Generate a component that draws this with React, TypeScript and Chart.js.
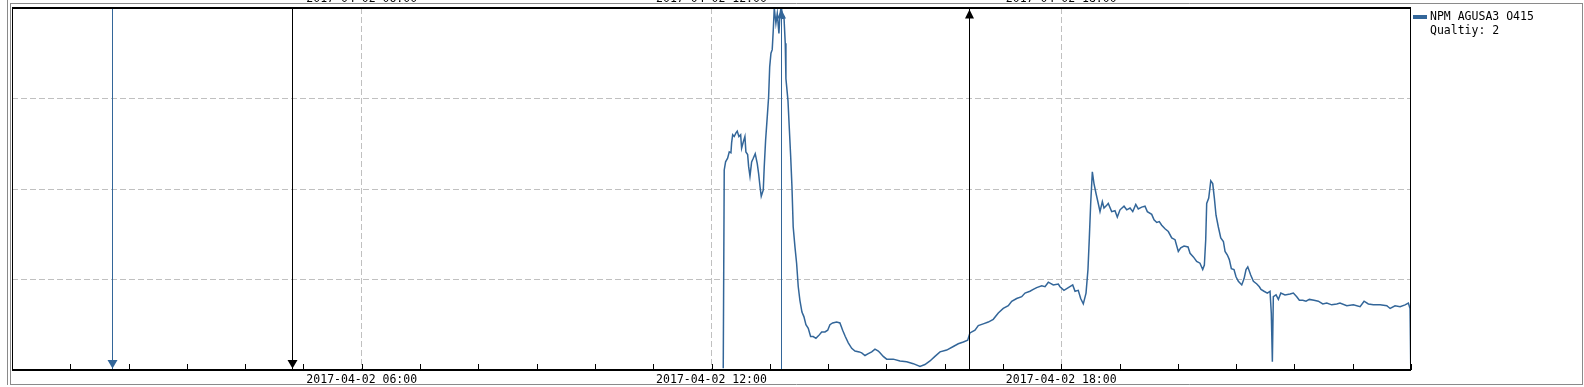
import React, { useEffect, useRef } from "react";
import { Chart, registerables } from "chart.js";

Chart.register(...registerables);

// ---- data ----
const dayLabel = "2017-04-02";
const seriesName = "NPM AGUSA3 O415";
const qualityText = "Qualtiy: 2";

// minutes since 2017-04-02 00:00
const times = [
  732.1, 733.1, 734.5, 736.6, 738.3, 740.0, 740.7, 741.8, 743.4, 745.2, 746.5, 748.2, 750.0, 751.0, 752.7,
  754.4, 755.4, 757.2, 758.2, 759.6, 761.3, 763.0, 765.0, 767.1, 768.5, 769.9, 771.2, 773.3, 774.3, 775.7,
  777.4, 778.8, 779.9, 781.2, 782.5, 783.6, 784.6, 786.3, 787.7, 789.4, 790.4, 791.8, 793.2, 794.6, 795.9,
  796.6, 798.7, 800.0, 801.5, 802.8, 804.1, 805.9, 807.6, 809.3, 811.0, 813.1, 815.1, 817.2, 819.6, 822.0,
  824.7, 827.5, 830.3, 833.4, 836.8, 839.6, 841.9, 844.7, 848.8, 852.2, 855.0, 857.7, 860.8, 864.3, 867.7,
  872.1, 874.6, 878.0, 881.4, 884.9, 888.3, 891.7, 893.4, 896.8, 900.3, 907.1, 914.0, 920.9, 927.7, 934.6,
  939.7, 944.9, 950.0, 955.2, 962.1, 968.9, 974.0, 979.2, 983.7, 986.0, 991.2, 994.6, 999.7, 1004.9, 1010.0,
  1015.2, 1020.3, 1025.5, 1029.0, 1034.1, 1039.3, 1042.7, 1047.8, 1051.2, 1054.7, 1059.9, 1063.3, 1066.7, 1071.8, 1077.0,
  1078.7, 1082.8, 1087.3, 1091.8, 1094.2, 1097.5, 1100.0, 1102.7, 1105.5, 1107.5, 1108.9, 1110.3, 1112.0, 1113.7, 1115.8,
  1118.1, 1119.9, 1122.3, 1124.0, 1126.8, 1128.4, 1131.9, 1135.3, 1137.7, 1140.5, 1144.6, 1147.4, 1150.8, 1153.6, 1156.7,
  1159.3, 1162.8, 1166.2, 1168.6, 1173.1, 1175.5, 1178.3, 1180.9, 1183.4, 1186.8, 1190.2, 1193.7, 1197.1, 1200.5, 1203.0,
  1206.4, 1210.5, 1212.6, 1216.0, 1219.4, 1222.8, 1225.6, 1227.3, 1228.7, 1229.7, 1231.8, 1233.9, 1235.9, 1237.6, 1239.3,
  1241.7, 1244.2, 1246.9, 1248.6, 1251.0, 1253.0, 1255.1, 1257.8, 1259.9, 1262.3, 1265.8, 1268.2, 1270.2, 1272.0, 1275.0,
  1277.8, 1281.3, 1283.9, 1285.6, 1288.7, 1292.1, 1294.9, 1296.2, 1297.3, 1298.3, 1301.1, 1303.5, 1306.0, 1310.3, 1315.5,
  1318.9, 1322.4, 1325.1, 1328.6, 1331.9, 1335.4, 1340.2, 1344.6, 1349.2, 1353.3, 1358.4, 1363.6, 1366.9, 1373.9, 1380.7,
  1387.6, 1391.7, 1396.1, 1401.3, 1408.2, 1415.1, 1418.5, 1423.6, 1428.8, 1433.9, 1437.3, 1439.0, 1439.7,
];

const values = [
  2, 221, 230, 234, 241, 240, 251, 260, 258, 262, 264, 258, 260, 245, 252,
  258, 241, 238, 225, 214, 230, 234, 239, 228, 217, 203, 192, 199, 225, 254,
  280, 302, 335, 350, 354, 376, 400, 383, 394, 372, 392, 402, 389, 390, 361,
  322, 298, 269, 236, 203, 158, 136, 118, 92, 77, 64, 59, 50, 46, 37,
  37, 35, 38, 42, 42, 44, 50, 52, 53, 52, 44, 37, 30, 24, 21,
  20, 19, 16, 18, 20, 23, 21, 19, 15, 12, 12, 10, 9, 7, 4,
  6, 10, 15, 20, 22, 26, 29, 31, 33, 41, 44, 49, 51, 53, 56,
  63, 68, 71, 76, 79, 81, 85, 87, 89, 91, 93, 92, 97, 94, 95,
  92, 88, 91, 94, 87, 88, 79, 73, 85, 111, 146, 184, 219, 206, 195,
  184, 175, 186, 179, 182, 184, 175, 176, 169, 177, 181, 177, 179, 175, 183,
  178, 180, 181, 175, 172, 166, 163, 164, 160, 156, 153, 146, 144, 131, 135,
  137, 136, 129, 125, 120, 118, 111, 116, 144, 184, 190, 209, 206, 190, 171,
  158, 146, 142, 131, 127, 122, 112, 111, 103, 98, 94, 101, 111, 114, 105,
  98, 95, 92, 89, 87, 85, 87, 63, 9, 81, 83, 78, 85, 83, 84,
  85, 81, 77, 77, 76, 78, 77, 76, 73, 74, 72, 73, 74, 71, 72,
  70, 76, 73, 72, 72, 71, 68, 71, 70, 72, 74, 68, 7,
];

// event markers (minutes since 00:00)
const eventTimes = [103, 288, 792, 985];
const eventColors = ["#336699", "#000000", "#336699", "#000000"];
const eventDirections = ["down", "down", "up", "up"];

const xMin = 0;
const xMax = 1440;
const xStep = 60;
const xMajor = 360;
const yMin = 0;
const yMax = 400;
const yStep = 100;

// ---- styles ----
const FONT = "'DejaVu Sans Mono', monospace";
const FONT_SIZE = 11.5;
const LINE_BLUE = "#336699";
const GRID = "#c0c0c0";
const OUTER = "#8a8a8a";

function pad2(n: number) {
  return n < 10 ? "0" + n : "" + n;
}

function majorLabel(v: number) {
  if (v % xMajor === 0 && v > xMin && v < xMax) return `${dayLabel} ${pad2(Math.round(v / 60))}:00`;
  return "";
}

const decorPlugin = {
  id: "decor",
  beforeDraw(chart: any) {
    const ctx = chart.ctx as CanvasRenderingContext2D;
    const a = chart.chartArea;
    ctx.save();
    ctx.fillStyle = "#ffffff";
    ctx.fillRect(0, 0, chart.width, chart.height);
    ctx.strokeStyle = OUTER;
    ctx.lineWidth = 1;
    ctx.beginPath();
    ctx.moveTo(7.5, 0);
    ctx.lineTo(7.5, a.bottom + 15);
    ctx.moveTo(10.5, 3);
    ctx.lineTo(10.5, a.bottom + 15);
    ctx.moveTo(10, 3.5);
    ctx.lineTo(chart.width - 1, 3.5);
    ctx.moveTo(10, a.bottom + 14.5);
    ctx.lineTo(chart.width - 1, a.bottom + 14.5);
    ctx.moveTo(chart.width - 1.5, 3);
    ctx.lineTo(chart.width - 1.5, a.bottom + 15);
    ctx.stroke();
    ctx.restore();
  },
  afterDatasetsDraw(chart: any) {
    const ctx = chart.ctx as CanvasRenderingContext2D;
    const a = chart.chartArea;
    const xs = chart.scales.x;
    ctx.save();
    eventTimes.forEach((t, i) => {
      const px = Math.round(xs.getPixelForValue(t)) + 0.5;
      const col = eventColors[i];
      ctx.strokeStyle = col;
      ctx.fillStyle = col;
      ctx.lineWidth = 1;
      ctx.beginPath();
      ctx.moveTo(px, a.top);
      ctx.lineTo(px, a.bottom);
      ctx.stroke();
      ctx.beginPath();
      if (eventDirections[i] === "down") {
        const tip = a.bottom - 1.5;
        ctx.moveTo(px, tip);
        ctx.lineTo(px - 5, tip - 8.5);
        ctx.lineTo(px + 5, tip - 8.5);
      } else {
        const tip = a.top + 1.5;
        ctx.moveTo(px, tip);
        ctx.lineTo(px - 4.5, tip + 9);
        ctx.lineTo(px + 4.5, tip + 9);
      }
      ctx.closePath();
      ctx.fill();
    });
    ctx.restore();
  },
  afterDraw(chart: any) {
    const ctx = chart.ctx as CanvasRenderingContext2D;
    const a = chart.chartArea;
    const xs = chart.scales.x;
    ctx.save();
    ctx.strokeStyle = "#000";
    ctx.lineWidth = 1;
    ctx.beginPath();
    ctx.moveTo(a.left + 0.5, a.top);
    ctx.lineTo(a.left + 0.5, a.bottom);
    ctx.moveTo(a.right - 0.5, a.top);
    ctx.lineTo(a.right - 0.5, a.bottom);
    ctx.stroke();
    ctx.lineWidth = 2;
    ctx.beginPath();
    ctx.moveTo(a.left, a.top);
    ctx.lineTo(a.right, a.top);
    ctx.moveTo(a.left, a.bottom);
    ctx.lineTo(a.right, a.bottom);
    ctx.stroke();
    ctx.lineWidth = 1;
    ctx.beginPath();
    xs.ticks.forEach((tk: any) => {
      const px = Math.round(xs.getPixelForValue(tk.value)) + 0.5;
      ctx.moveTo(px, a.bottom - 6);
      ctx.lineTo(px, a.bottom);
    });
    ctx.stroke();
    const lx = a.right + 2;
    ctx.fillStyle = LINE_BLUE;
    ctx.fillRect(lx, a.top + 7, 14, 4);
    ctx.fillStyle = "#000";
    ctx.font = `${FONT_SIZE}px ${FONT}`;
    ctx.textBaseline = "middle";
    ctx.textAlign = "left";
    ctx.fillText(seriesName, lx + 17, a.top + 9.5);
    ctx.fillText(qualityText, lx + 17, a.top + 23);
    ctx.restore();
  },
};

export default function App() {
  const ref = useRef<HTMLCanvasElement>(null);
  useEffect(() => {
    const canvas = ref.current;
    if (!canvas) return;
    const points = times.map((t, i) => ({ x: t, y: values[i] }));
    const tickFont = { family: FONT, size: FONT_SIZE };
    const chart = new Chart(canvas, {
      type: "line",
      data: {
        datasets: [
          {
            label: seriesName,
            data: points,
            borderColor: LINE_BLUE,
            backgroundColor: LINE_BLUE,
            borderWidth: 1.5,
            pointRadius: 0,
            tension: 0,
            fill: false,
          },
        ],
      },
      options: {
        animation: false,
        responsive: false,
        devicePixelRatio: 1,
        parsing: false,
        normalized: true,
        layout: { padding: { left: 12, right: 173, top: 0, bottom: 0 } },
        plugins: {
          legend: { display: false },
          tooltip: { enabled: false },
        },
        scales: {
          x: {
            type: "linear",
            position: "bottom",
            min: xMin,
            max: xMax,
            afterFit: (s: any) => {
              s.height = 17;
            },
            ticks: {
              stepSize: xStep,
              autoSkip: false,
              maxRotation: 0,
              minRotation: 0,
              padding: 3,
              color: "#000",
              font: tickFont,
              callback: (v: any) => majorLabel(Number(v)),
            },
            grid: {
              drawTicks: false,
              lineWidth: 1,
              color: (c: any) => (c.tick && majorLabel(c.tick.value) ? GRID : "rgba(0,0,0,0)"),
            },
            border: { display: false, dash: [6, 3] },
          },
          x2: {
            type: "linear",
            position: "top",
            min: xMin,
            max: xMax,
            afterFit: (s: any) => {
              s.height = 8;
            },
            ticks: {
              stepSize: xStep,
              autoSkip: false,
              maxRotation: 0,
              minRotation: 0,
              padding: 2,
              color: "#000",
              font: tickFont,
              callback: (v: any) => majorLabel(Number(v)),
            },
            grid: { display: false, drawTicks: false },
            border: { display: false },
          },
          y: {
            type: "linear",
            min: yMin,
            max: yMax,
            afterFit: (s: any) => {
              s.width = 0;
            },
            ticks: { display: false, stepSize: yStep },
            grid: {
              drawTicks: false,
              lineWidth: 1,
              color: (c: any) =>
                c.tick && c.tick.value > yMin && c.tick.value < yMax ? GRID : "rgba(0,0,0,0)",
            },
            border: { display: false, dash: [6, 3] },
          },
        },
      },
      plugins: [decorPlugin],
    } as any);
    return () => chart.destroy();
  }, []);
  return (
    <div style={{ position: "absolute", left: 0, top: 0, width: 1584, height: 387, background: "#fff" }}>
      <canvas ref={ref} width={1584} height={387} style={{ display: "block", width: 1584, height: 387 }} />
    </div>
  );
}
